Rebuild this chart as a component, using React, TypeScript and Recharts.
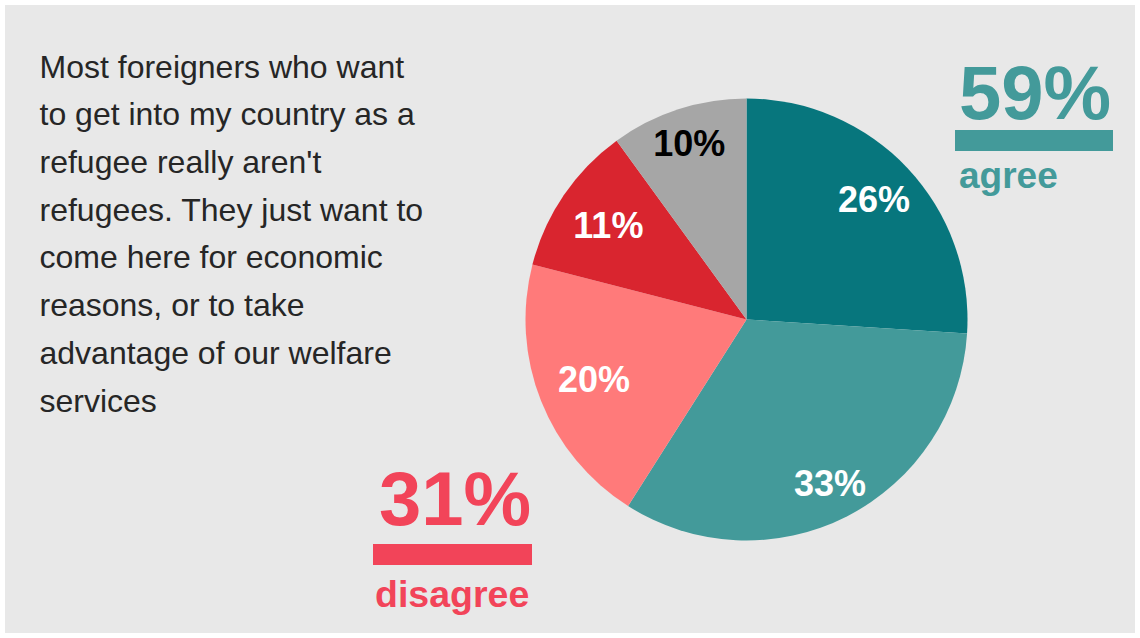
import React from 'react';
import { PieChart, Pie, Cell } from 'recharts';

const categories = ['Strongly agree', 'Tend to agree', 'Tend to disagree', 'Strongly disagree', "Don't know"];
const values = [26, 33, 20, 11, 10];
const sliceColors = ['#07767d', '#439a9a', '#ff7a7a', '#d9252f', '#a6a6a6'];
const labelColors = ['#ffffff', '#ffffff', '#ffffff', '#ffffff', '#000000'];
const labelRadii = [175, 184, 164, 167, 185];

const statement = [
    'Most foreigners who want',
    'to get into my country as a',
    "refugee really aren't",
    'refugees. They just want to',
    'come here for economic',
    'reasons, or to take',
    'advantage of our welfare',
    'services',
];

const agreeTotal = '59%';
const disagreeTotal = '31%';

const FONT = "'Liberation Sans'";
const RAD = Math.PI / 180;

const data = categories.map((name, i) => ({ name, value: values[i] }));

const renderLabel = (props: any) => {
    const { cx, cy, midAngle, index, value } = props;
    const r = labelRadii[index];
    const x = cx + r * Math.cos(-midAngle * RAD);
    const y = cy + r * Math.sin(-midAngle * RAD);
    return (
        <text
            x={x}
            y={y}
            fill={labelColors[index]}
            textAnchor="middle"
            dominantBaseline="central"
            style={{ fontFamily: FONT, fontWeight: 'bold', fontSize: 36 }}
        >
            {`${value}%`}
        </text>
    );
};

const txt = { fontFamily: FONT };
const bold = { fontFamily: FONT, fontWeight: 'bold' as const };

export default function App() {
    return (
        <div style={{ position: 'absolute', left: 5, top: 5, width: 1130, height: 628, background: '#e8e8e8' }}>
            <PieChart width={1130} height={628} margin={{ top: 0, right: 0, bottom: 0, left: 0 }}>
                <Pie
                    data={data}
                    dataKey="value"
                    cx={741.5}
                    cy={314.5}
                    outerRadius={221}
                    startAngle={90}
                    endAngle={-270}
                    stroke="none"
                    label={renderLabel}
                    labelLine={false}
                    isAnimationActive={false}
                >
                    {data.map((entry, i) => (
                        <Cell key={entry.name} fill={sliceColors[i]} />
                    ))}
                </Pie>
            </PieChart>
            <svg width={1130} height={628} style={{ position: 'absolute', left: 0, top: 0, pointerEvents: 'none' }}>
                {statement.map((line, i) => (
                    <text key={i} x={34.5} y={72.5 + i * 47.74} style={{ ...txt, fontSize: 32 }} fill="#262626">
                        {line}
                    </text>
                ))}
                <text x={954} y={114} style={{ ...bold, fontSize: 76 }} fill="#439a9a">
                    {agreeTotal}
                </text>
                <rect x={950} y={125} width={158} height={21} fill="#439a9a" />
                <text x={954} y={183} style={{ ...bold, fontSize: 37 }} fill="#439a9a">
                    agree
                </text>
                <text x={374} y={520} style={{ ...bold, fontSize: 76 }} fill="#f24459">
                    {disagreeTotal}
                </text>
                <rect x={368} y={539} width={159} height={21} fill="#f24459" />
                <text x={370} y={602} style={{ ...bold, fontSize: 37.5 }} fill="#f24459">
                    disagree
                </text>
            </svg>
        </div>
    );
}
